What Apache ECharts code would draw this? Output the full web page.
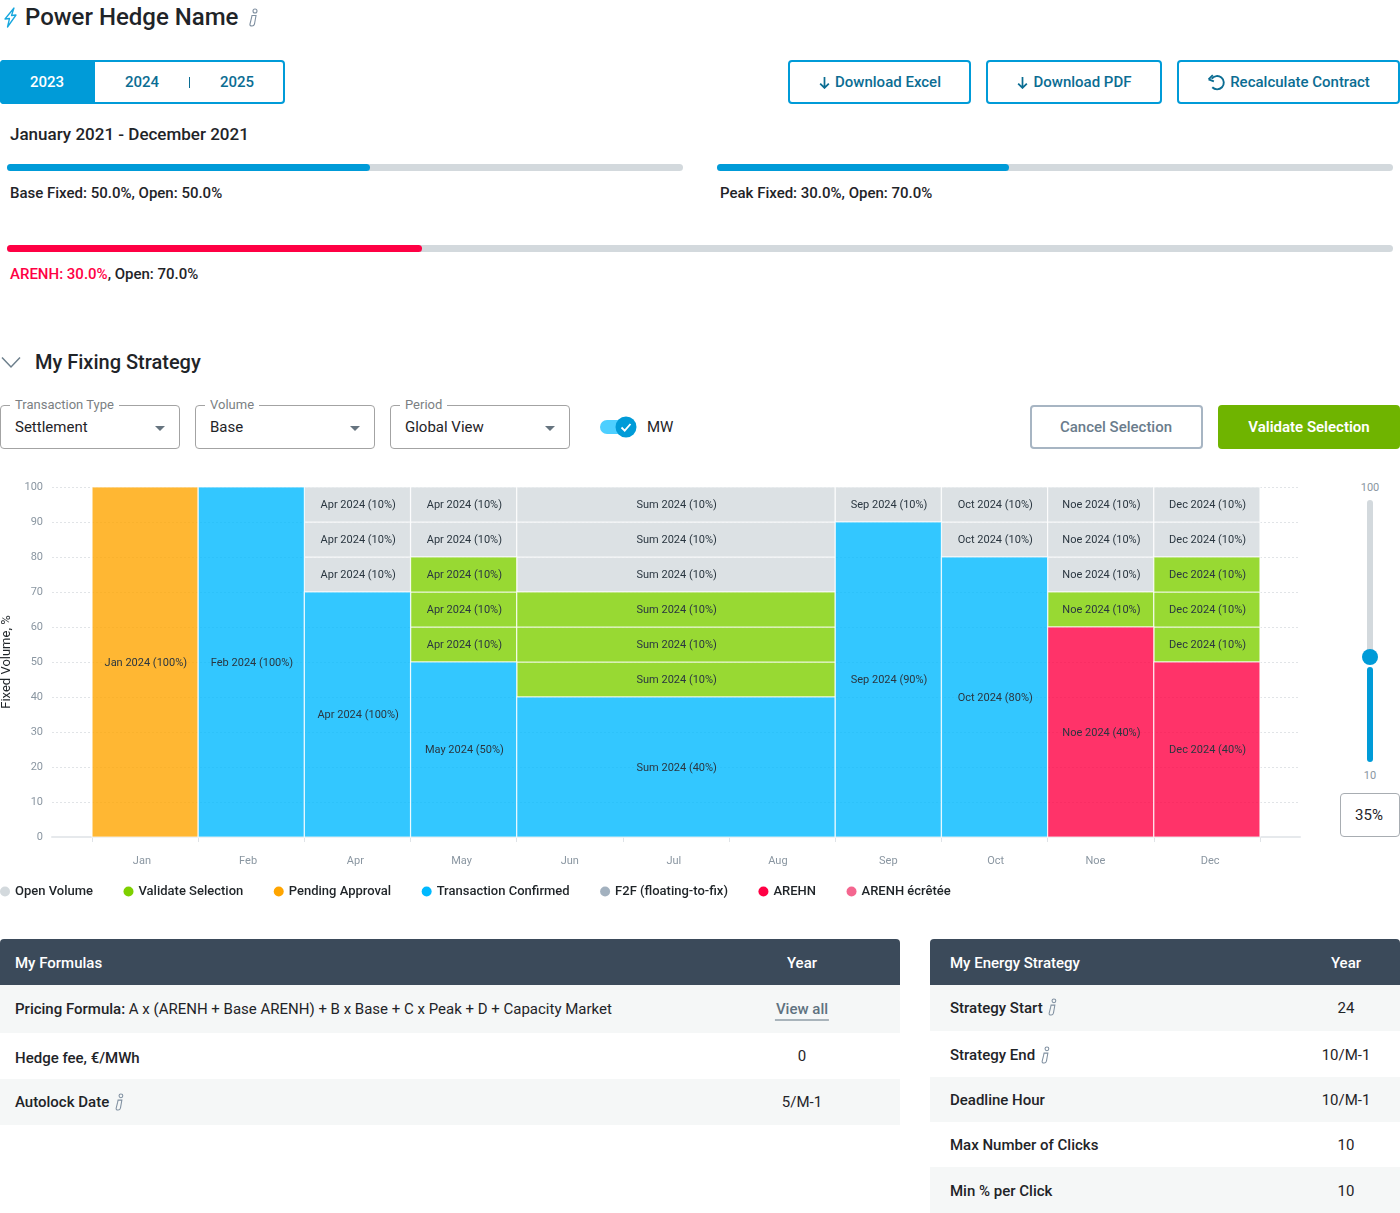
<!DOCTYPE html>
<html>
<head>
<meta charset="utf-8">
<title>Power Hedge Name</title>
<script src="https://cdn.jsdelivr.net/npm/echarts@6/dist/echarts.min.js"></script>
<style>
  html, body { margin: 0; padding: 0; background: #fff; }
  body { position: relative; width: 1400px; height: 1213px; overflow: hidden; font-family: Roboto, sans-serif; color: #1f2428; }
  .a { position: absolute; white-space: nowrap; }
  .mid { transform: translateY(-50%); }
  .ctr { transform: translate(-50%, -50%); }
  .box { position: absolute; box-sizing: border-box; }
  .btn { position: absolute; box-sizing: border-box; height: 44px; top: 60px; border: 2px solid #009bd8; border-radius: 4px;
         display: flex; align-items: center; justify-content: center; font-size: 15px; font-weight: 500; color: #0b6d93; gap: 4px; }
  .track { position: absolute; height: 7px; border-radius: 4px; background: #d3d9dd; }
  .fill { position: absolute; left: 0; top: 0; height: 7px; border-radius: 4px; }
  .t15 { font-size: 15px; }
  .sel { position: absolute; box-sizing: border-box; top: 405px; width: 180px; height: 44px; border: 1px solid #a3a3a3; border-radius: 4px; }
  .sel span.lab { position: absolute; left: 9px; top: -9px; padding: 0 5px; background: #fff; font-size: 13px; color: #7b7f83; line-height: 16px; }
  .sel span.val { position: absolute; left: 14px; top: 12px; font-size: 15px; line-height: 18px; }
  .sel i { position: absolute; right: 14px; top: 20px; width: 0; height: 0; border-left: 5px solid transparent; border-right: 5px solid transparent; border-top: 5px solid #66747f; }
  #chart { position: absolute; left: 0; top: 470px; width: 1340px; height: 440px; }
  .b { font-weight: 500; }
</style>
</head>
<body>

<!-- header -->
<svg class="a" style="left:3px;top:7px" width="15" height="21" viewBox="0 0 15 21" fill="none" stroke="#17a7de" stroke-width="1.3" stroke-linejoin="round"><path d="M11 1 L2 12 L6.5 11.5 L4.5 20 L13 8 L8.5 8.5 Z"/></svg>
<div class="a mid" style="left:25px;top:17px;font-size:24px;font-weight:500">Power Hedge Name</div>
<svg class="a" style="left:248px;top:8px" width="11" height="19" viewBox="0 0 11 19" fill="none" stroke="#7f8fa0" stroke-width="1.1"><circle cx="7" cy="3" r="2"/><path d="M4 7.5 H8 L6.5 16 Q6 18 4 18 Q1.5 18 2 16 L3.5 10 Z"/></svg>

<!-- year tabs -->
<div class="box" style="left:0;top:60px;width:285px;height:44px;border:2px solid #009bd8;border-radius:4px"></div>
<div class="box" style="left:0;top:60px;width:95px;height:44px;background:#009bd8;border-radius:4px 0 0 4px"></div>
<div class="a ctr t15 b" style="left:47px;top:82px;color:#fff">2023</div>
<div class="a ctr t15 b" style="left:142px;top:82px;color:#0b6d93">2024</div>
<div class="box" style="left:189px;top:77px;width:1px;height:11px;background:#0b6d93"></div>
<div class="a ctr t15 b" style="left:237px;top:82px;color:#0b6d93">2025</div>

<!-- actions -->
<div class="btn" style="left:788px;width:183px"><svg width="13" height="13" viewBox="0 0 12 12" fill="none" stroke="#0b6d93" stroke-width="1.6"><path d="M6 1 V11 M2 7 L6 11 L10 7"/></svg>Download Excel</div>
<div class="btn" style="left:986px;width:176px"><svg width="13" height="13" viewBox="0 0 12 12" fill="none" stroke="#0b6d93" stroke-width="1.6"><path d="M6 1 V11 M2 7 L6 11 L10 7"/></svg>Download PDF</div>
<div class="btn" style="left:1177px;width:223px"><svg width="19" height="17" viewBox="0 0 18 16" fill="none" stroke="#0b6d93" stroke-width="1.8"><path d="M4.5 4.5 A6.3 6.3 0 1 1 5 12.5"/><path d="M1.5 5 L5.5 1 M1.5 5 L6.5 7"/></svg>Recalculate Contract</div>

<!-- progress -->
<div class="a mid b" style="left:10px;top:134px;font-size:17px">January 2021 - December 2021</div>
<div class="track" style="left:7px;top:164px;width:676px"><div class="fill" style="width:363px;background:#009bd8"></div></div>
<div class="a mid t15 b" style="left:10px;top:193px">Base Fixed: 50.0%, Open: 50.0%</div>
<div class="track" style="left:717px;top:164px;width:676px"><div class="fill" style="width:292px;background:#009bd8"></div></div>
<div class="a mid t15 b" style="left:720px;top:193px">Peak Fixed: 30.0%, Open: 70.0%</div>
<div class="track" style="left:7px;top:245px;width:1386px"><div class="fill" style="width:415px;background:#ff0044"></div></div>
<div class="a mid t15 b" style="left:10px;top:274px"><span style="color:#ff0044">ARENH: 30.0%</span>, Open: 70.0%</div>

<!-- strategy section -->
<svg class="a" style="left:1px;top:356px" width="20" height="13" viewBox="0 0 20 13" fill="none" stroke="#6d7f8c" stroke-width="1.5"><path d="M1 1.5 L10 11 L19 1.5"/></svg>
<div class="a mid" style="left:35px;top:362px;font-size:20px;font-weight:500">My Fixing Strategy</div>

<div class="sel" style="left:0"><span class="lab">Transaction Type</span><span class="val">Settlement</span><i></i></div>
<div class="sel" style="left:195px"><span class="lab">Volume</span><span class="val">Base</span><i></i></div>
<div class="sel" style="left:390px"><span class="lab">Period</span><span class="val">Global View</span><i></i></div>

<div class="box" style="left:600px;top:420px;width:34px;height:14px;border-radius:7px;background:#4dcfff"></div>
<svg class="a" style="left:615px;top:416px" width="22" height="22" viewBox="0 0 22 22"><circle cx="11" cy="11" r="10.5" fill="#009bd8"/><path d="M6.5 11.5 L9.7 14.7 L15.5 8" fill="none" stroke="#fff" stroke-width="1.8"/></svg>
<div class="a mid t15" style="left:647px;top:427px">MW</div>

<div class="box" style="left:1030px;top:405px;width:173px;height:44px;border:2px solid #a7b5c3;border-radius:4px"></div>
<div class="a ctr t15 b" style="left:1116px;top:427px;color:#6a7c8c">Cancel Selection</div>
<div class="box" style="left:1218px;top:405px;width:182px;height:44px;background:#6fb400;border-radius:4px"></div>
<div class="a ctr t15" style="left:1309px;top:427px;color:#fff;font-weight:600">Validate Selection</div>

<div id="chart"></div>

<!-- volume slider -->
<div class="a ctr" style="left:1370px;top:487px;font-size:11px;color:#8a96a1">100</div>
<div class="box" style="left:1367px;top:500px;width:6px;height:160px;background:#d3d9dd;border-radius:3px"></div>
<div class="box" style="left:1367px;top:667px;width:6px;height:95px;background:#009bd8;border-radius:3px"></div>
<div class="box" style="left:1362px;top:649px;width:16px;height:16px;background:#009bd8;border-radius:50%"></div>
<div class="a ctr" style="left:1370px;top:775px;font-size:11px;color:#8a96a1">10</div>
<div class="box" style="left:1340px;top:793px;width:60px;height:44px;border:1px solid #a8adb2;border-radius:4px"></div>
<div class="a ctr t15" style="left:1369px;top:815px">35%</div>

<!-- formulas table -->
<div class="box" style="left:0;top:939px;width:900px;height:46px;background:#3b4a5a;border-radius:4px 4px 0 0"></div>
<div class="a mid t15 b" style="left:15px;top:963px;color:#fff">My Formulas</div>
<div class="a ctr t15 b" style="left:802px;top:963px;color:#fff">Year</div>
<div class="box" style="left:0;top:985px;width:900px;height:48px;background:#f5f7f7"></div>
<div class="box" style="left:0;top:1079px;width:900px;height:46px;background:#f5f7f7"></div>
<div class="a mid t15" style="left:15px;top:1009px"><span class="b">Pricing Formula:</span> A x (ARENH + Base ARENH) + B x Base + C x Peak + D + Capacity Market</div>
<div class="a ctr t15 b" style="left:802px;top:1009px;color:#5f7280;border-bottom:1px solid #5f7280;padding:0 1px 2px;margin-top:1px">View all</div>
<div class="a mid t15 b" style="left:15px;top:1058px">Hedge fee, €/MWh</div>
<div class="a ctr t15" style="left:802px;top:1056px">0</div>
<div class="a mid t15 b" style="left:15px;top:1102px">Autolock Date</div>
<svg class="a" style="left:114px;top:1093px" width="11" height="18" viewBox="0 0 11 19" fill="none" stroke="#7f8fa0" stroke-width="1.1"><circle cx="7" cy="3" r="2"/><path d="M4 7.5 H8 L6.5 16 Q6 18 4 18 Q1.5 18 2 16 L3.5 10 Z"/></svg>
<div class="a ctr t15" style="left:802px;top:1102px">5/M-1</div>

<!-- energy strategy table -->
<div class="box" style="left:930px;top:939px;width:470px;height:46px;background:#3b4a5a;border-radius:4px 4px 0 0"></div>
<div class="a mid t15 b" style="left:950px;top:963px;color:#fff">My Energy Strategy</div>
<div class="a ctr t15 b" style="left:1346px;top:963px;color:#fff">Year</div>
<div class="box" style="left:930px;top:985px;width:470px;height:46px;background:#f5f7f7"></div>
<div class="box" style="left:930px;top:1077px;width:470px;height:45px;background:#f5f7f7"></div>
<div class="box" style="left:930px;top:1167px;width:470px;height:46px;background:#f5f7f7"></div>
<div class="a mid t15 b" style="left:950px;top:1008px">Strategy Start</div>
<svg class="a" style="left:1047px;top:998px" width="11" height="18" viewBox="0 0 11 19" fill="none" stroke="#7f8fa0" stroke-width="1.1"><circle cx="7" cy="3" r="2"/><path d="M4 7.5 H8 L6.5 16 Q6 18 4 18 Q1.5 18 2 16 L3.5 10 Z"/></svg>
<div class="a ctr t15" style="left:1346px;top:1008px">24</div>
<div class="a mid t15 b" style="left:950px;top:1055px">Strategy End</div>
<svg class="a" style="left:1040px;top:1046px" width="11" height="18" viewBox="0 0 11 19" fill="none" stroke="#7f8fa0" stroke-width="1.1"><circle cx="7" cy="3" r="2"/><path d="M4 7.5 H8 L6.5 16 Q6 18 4 18 Q1.5 18 2 16 L3.5 10 Z"/></svg>
<div class="a ctr t15" style="left:1346px;top:1055px">10/M-1</div>
<div class="a mid t15 b" style="left:950px;top:1100px">Deadline Hour</div>
<div class="a ctr t15" style="left:1346px;top:1100px">10/M-1</div>
<div class="a mid t15 b" style="left:950px;top:1145px">Max Number of Clicks</div>
<div class="a ctr t15" style="left:1346px;top:1145px">10</div>
<div class="a mid t15 b" style="left:950px;top:1191px">Min % per Click</div>
<div class="a ctr t15" style="left:1346px;top:1191px">10</div>

<script>
// months on the x axis (no Mar in the source chart)
const months = ['Jan', 'Feb', 'Apr', 'May', 'Jun', 'Jul', 'Aug', 'Sep', 'Oct', 'Noe', 'Dec'];
const monthLabelPos = [0.47, 1.47, 2.48, 3.48, 4.5, 5.48, 6.46, 7.5, 8.51, 9.45, 10.53];

// one column per contract, Sum 2024 spans Jun-Aug
const contracts = ['Jan 2024', 'Feb 2024', 'Apr 2024', 'May 2024', 'Sum 2024', 'Sep 2024', 'Oct 2024', 'Noe 2024', 'Dec 2024'];
const contractMonths = [1, 1, 1, 1, 3, 1, 1, 1, 1];
// the 10% clicks of the May column read Apr 2024 in the source
const clickContracts = ['Jan 2024', 'Feb 2024', 'Apr 2024', 'Apr 2024', 'Sum 2024', 'Sep 2024', 'Oct 2024', 'Noe 2024', 'Dec 2024'];

// volumes in %, stacked bottom to top: pending/confirmed/arenh, then validate, then open
const pending = [100, 0, 0, 0, 0, 0, 0, 0, 0];
const confirmed = [0, 100, 70, 50, 40, 90, 80, 0, 0];
const arenh = [0, 0, 0, 0, 0, 0, 0, 60, 50];
const validate = [0, 0, 0, 30, 30, 0, 0, 10, 30];
const open = [0, 0, 30, 20, 30, 10, 20, 30, 20];
// what the base cell says, it does not always equal its height
const baseShares = [100, 100, 100, 50, 40, 90, 80, 40, 40];
const clickSize = 10;

const legendNames = ['Open Volume', 'Validate Selection', 'Pending Approval', 'Transaction Confirmed', 'F2F (floating-to-fix)', 'AREHN', 'ARENH écrêtée'];
const legendColors = ['#d3d9dd', '#7ed000', '#ffa500', '#00b9ff', '#a3b1bf', '#ff0044', '#f4668f'];

function buildCells() {
  const cells = {};
  legendNames.forEach((n) => { cells[n] = []; });
  let x = 0;
  contracts.forEach((name, i) => {
    const x1 = x + contractMonths[i];
    const base = pending[i] + confirmed[i] + arenh[i];
    const baseName = pending[i] ? 'Pending Approval' : confirmed[i] ? 'Transaction Confirmed' : 'AREHN';
    const clickText = clickContracts[i] + ' (' + clickSize + '%)';
    cells[baseName].push([x, x1, 0, base, name + ' (' + baseShares[i] + '%)']);
    let y = base;
    for (let k = 0; k < validate[i] / clickSize; k++) {
      cells['Validate Selection'].push([x, x1, y, y + clickSize, clickText]);
      y += clickSize;
    }
    for (let k = 0; k < open[i] / clickSize; k++) {
      cells['Open Volume'].push([x, x1, y, y + clickSize, clickText]);
      y += clickSize;
    }
    x = x1;
  });
  return cells;
}

const myChart = echarts.init(document.getElementById('chart'));
const cells = buildCells();

function renderCell(params, api) {
  const p0 = api.coord([api.value(0), api.value(3)]);
  const p1 = api.coord([api.value(1), api.value(2)]);
  return {
    type: 'group',
    children: [
      {
        type: 'rect',
        shape: { x: p0[0], y: p0[1], width: p1[0] - p0[0], height: p1[1] - p0[1] },
        style: { fill: legendColors[params.seriesIndex], stroke: '#fff', lineWidth: 1.2, opacity: 0.8 }
      },
      {
        type: 'text',
        style: {
          x: (p0[0] + p1[0]) / 2 + 0.7, y: (p0[1] + p1[1]) / 2 + 1,
          text: api.value(4), fill: '#2a3640',
          font: '11px Roboto', align: 'center', verticalAlign: 'middle'
        }
      }
    ]
  };
}

myChart.setOption({
  animation: false,
  textStyle: { fontFamily: 'Roboto' },
  grid: { left: 52, top: 17, width: 1248, height: 350, outerBoundsMode: 'none' },
  legend: {
    left: 0, top: 415, padding: 0, itemWidth: 10, itemHeight: 10, itemGap: 30.5, icon: 'circle',
    textStyle: { fontSize: 13, color: '#1f2428', fontWeight: 500 },
    data: legendNames
  },
  xAxis: {
    type: 'value', min: -0.377, max: 11.377,
    splitLine: { show: false },
    axisLine: { show: true, onZero: false, lineStyle: { color: '#e6e9ec', width: 2 } },
    axisTick: { show: true, length: 5, lineStyle: { color: '#dfe3e7' }, customValues: months.map((m, i) => i).concat(months.length) },
    axisLabel: {
      color: '#8a96a1', fontSize: 11, margin: 19,
      customValues: monthLabelPos,
      formatter: (v) => months[monthLabelPos.indexOf(v)]
    }
  },
  yAxis: {
    type: 'value', min: 0, max: 100, interval: 10,
    name: 'Fixed Volume, %', nameLocation: 'middle', nameGap: 36,
    nameTextStyle: { color: '#1f2428', fontSize: 13 },
    axisLine: { show: false }, axisTick: { show: false },
    axisLabel: { color: '#8a96a1', fontSize: 11, margin: 9, lineHeight: 14, padding: [3, 0, 0, 0] },
    splitLine: { lineStyle: { type: [2, 2], color: '#e1e4e7' } }
  },
  series: legendNames.map((name, i) => ({
    name,
    type: 'custom',
    itemStyle: { color: legendColors[i] },
    renderItem: renderCell,
    encode: { x: [0, 1], y: [2, 3] },
    data: cells[name]
  }))
});
</script>
</body>
</html>
